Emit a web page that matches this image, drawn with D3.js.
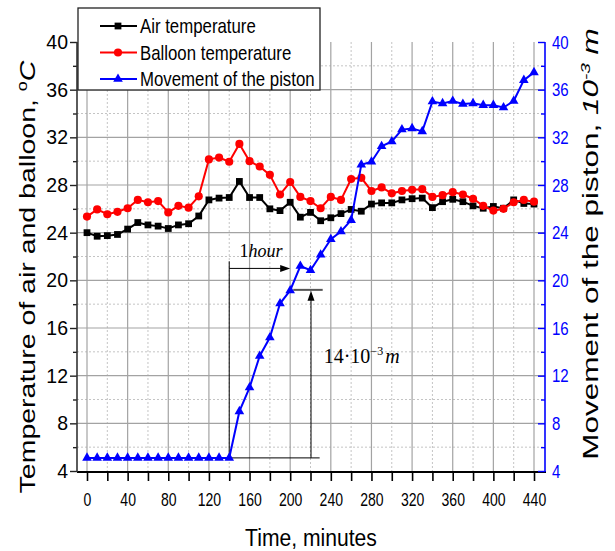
<!DOCTYPE html>
<html>
<head>
<meta charset="utf-8">
<script src="https://cdn.jsdelivr.net/npm/d3@7"></script>
<style>
    body { margin: 0; background: #fff; }
    svg { display: block; }
    text { font-family: Arial, "Liberation Sans", sans-serif; }
</style>
</head>
<body>
<svg id="chart" width="615" height="551"></svg>
<script>
// data
const times = [0, 10, 20, 30, 40, 50, 60, 70, 80, 90, 100, 110, 120, 130, 140, 150, 160, 170, 180, 190,
    200, 210, 220, 230, 240, 250, 260, 270, 280, 290, 300, 310, 320, 330, 340, 350, 360, 370, 380, 390,
    400, 410, 420, 430, 440];
const airTemp = [24.0, 23.7, 23.75, 23.85, 24.3, 24.85, 24.65, 24.55, 24.35, 24.65, 24.75, 25.4, 26.75, 26.9, 26.95,
    28.3, 26.95, 26.95, 26.0, 25.85, 26.55, 25.3, 25.7, 25.0, 25.25, 25.6, 25.95, 25.8, 26.4, 26.5,
    26.5, 26.75, 26.85, 26.9, 26.1, 26.6, 26.8, 26.6, 26.25, 26.05, 26.2, 26.05, 26.75, 26.45, 26.4];
const balloonTemp = [25.35, 25.95, 25.55, 25.75, 26.05, 26.75, 26.55, 26.65, 25.7, 26.25, 26.1, 27.05, 30.15, 30.3, 29.95,
    31.45, 30.0, 29.55, 28.85, 27.2, 28.25, 27.0, 26.65, 26.05, 27.0, 26.75, 28.5, 28.6, 27.5, 27.8,
    27.3, 27.5, 27.6, 27.65, 27.0, 27.15, 27.4, 27.2, 26.85, 26.25, 25.85, 26.0, 26.55, 26.75, 26.6];
const piston = [5.1, 5.1, 5.1, 5.1, 5.1, 5.1, 5.1, 5.1, 5.1, 5.1, 5.1, 5.1, 5.1, 5.1, 5.1,
    9.0, 11.0, 13.65, 15.2, 18.05, 19.15, 21.2, 20.85, 22.15, 23.45, 24.1, 25.05, 29.7, 29.95, 31.25,
    31.65, 32.65, 32.75, 32.5, 35.0, 34.85, 35.05, 34.8, 34.85, 34.7, 34.7, 34.5, 35.05, 36.8, 37.45];

const seriesNames = ["Air temperature", "Balloon temperature", "Movement of the piston"];
const xTicks = [0, 40, 80, 120, 160, 200, 240, 280, 320, 360, 400, 440];
const xMinor = [20, 60, 100, 140, 180, 220, 260, 300, 340, 380, 420];
const yTicks = [4, 8, 12, 16, 20, 24, 28, 32, 36, 40];
const yMinor = [6, 10, 14, 18, 22, 26, 30, 34, 38];

// annotation anchors, in data units
const hourStart = 140, hourEnd = 200, hourLevel = 21.0, hourTop = 21.6;
const riseAt = 220.5, riseTop = 19.2, riseCapFrom = 203, riseCapTo = 232, baseTo = 229;

const svg = d3.select("#chart");
const plotL = 77, plotR = 545, plotT = 42, plotB = 472;

const x = d3.scaleLinear().domain([0, 440]).range([87, 534]);
const y = d3.scaleLinear().domain([4, 40]).range([471, 42]);
const yR = d3.scaleLinear().domain([4, 40]).range([471, 42]);

// squeeze text horizontally (picture is narrower than the fonts)
function squeezeAt(sel, sx, px, py, rot) {
    sel.attr("x", 0).attr("y", 0)
        .attr("transform", `translate(${px},${py}) scale(${sx},1)` + (rot ? ` rotate(${rot})` : ""));
}

// grid
const grid = svg.append("g");
grid.selectAll(".vmin").data(xMinor).join("line")
    .attr("x1", d => x(d)).attr("x2", d => x(d)).attr("y1", plotT).attr("y2", plotB)
    .attr("stroke", "#c4c4c4").attr("stroke-dasharray", "2,2");
grid.selectAll(".hmin").data(yMinor).join("line")
    .attr("x1", plotL).attr("x2", plotR).attr("y1", d => y(d)).attr("y2", d => y(d))
    .attr("stroke", "#c4c4c4").attr("stroke-dasharray", "2,2");
grid.selectAll(".vmaj").data(xTicks).join("line")
    .attr("x1", d => x(d)).attr("x2", d => x(d)).attr("y1", plotT).attr("y2", plotB)
    .attr("stroke", "#a3a3a3").attr("stroke-width", 1.2);
grid.selectAll(".hmaj").data(yTicks.filter(d => d > 4 && d < 40)).join("line")
    .attr("x1", plotL).attr("x2", plotR).attr("y1", d => y(d)).attr("y2", d => y(d))
    .attr("stroke", "#a3a3a3").attr("stroke-width", 1.2);

// annotations
const ann = svg.append("g").attr("stroke", "#000").attr("stroke-width", 1).attr("fill", "none");
const base = piston[0];
ann.append("line").attr("x1", x(hourStart)).attr("x2", x(hourStart)).attr("y1", y(hourTop)).attr("y2", y(base));
ann.append("line").attr("x1", x(hourStart)).attr("x2", x(baseTo)).attr("y1", y(base)).attr("y2", y(base));
ann.append("line").attr("x1", x(hourStart)).attr("x2", x(hourEnd) - 8).attr("y1", y(hourLevel)).attr("y2", y(hourLevel));
ann.append("path").attr("fill", "#000").attr("stroke", "none")
    .attr("d", `M${x(hourEnd)},${y(hourLevel)} l-10,-3.5 l0,7 z`);
ann.append("line").attr("x1", x(riseAt)).attr("x2", x(riseAt)).attr("y1", y(base)).attr("y2", y(riseTop) + 9);
ann.append("path").attr("fill", "#000").attr("stroke", "none")
    .attr("d", `M${x(riseAt)},${y(riseTop) + 1} l-3.5,10 l7,0 z`);
ann.append("line").attr("x1", x(riseCapFrom)).attr("x2", x(riseCapTo)).attr("y1", y(riseTop)).attr("y2", y(riseTop))
    .attr("stroke", "#555").attr("stroke-width", 2);

const serif = "'Liberation Serif', 'Times New Roman', serif";
const t1 = svg.append("text").attr("x", x(150)).attr("y", y(21.98))
    .style("font-family", serif).style("font-size", "18px");
t1.append("tspan").text("1");
t1.append("tspan").style("font-style", "italic").text("hour");

const t2 = svg.append("text").attr("x", x(233)).attr("y", y(13.04))
    .style("font-family", serif).style("font-size", "20px");
t2.append("tspan").text("14\u00b710");
t2.append("tspan").attr("dy", -8).style("font-size", "12px").text("\u22123");
t2.append("tspan").attr("dy", 8).attr("dx", 2).style("font-style", "italic").text("m");

// series
const series = [
    { values: airTemp, color: "#000", shape: d3.symbolSquare, size: 46 },
    { values: balloonTemp, color: "#f00", shape: d3.symbolCircle, size: 52 },
    { values: piston, color: "#00f", shape: d3.symbolTriangle, size: 40 }
];
series.forEach((s, i) => {
    const sy = i === 2 ? yR : y;
    const line = d3.line().x((d, j) => x(times[j])).y(d => sy(d));
    svg.append("path").datum(s.values)
        .attr("d", line).attr("fill", "none").attr("stroke", s.color).attr("stroke-width", 2);
    svg.append("g").selectAll("path").data(s.values).join("path")
        .attr("transform", (d, j) => `translate(${x(times[j])},${sy(d)})`)
        .attr("d", d3.symbol().type(s.shape).size(s.size))
        .attr("fill", s.color);
});

// axes
const gx = svg.append("g").attr("transform", `translate(0,${plotB})`);
gx.call(d3.axisBottom(x).tickValues(xTicks).tickSize(9).tickPadding(12));
gx.call(g => g.select(".domain").remove());
gx.selectAll(".tick line").attr("stroke", "#000").attr("stroke-width", 1.6);
gx.selectAll(".tick text").style("font-size", "18px").attr("fill", "#000")
    .attr("transform", "scale(0.78,1)");
const gx2 = svg.append("g").attr("transform", `translate(0,${plotB})`);
gx2.call(d3.axisBottom(x).tickValues(xMinor).tickSize(9).tickFormat(""));
gx2.call(g => g.select(".domain").remove());
gx2.selectAll(".tick line").attr("stroke", "#000").attr("stroke-width", 1.6);
svg.append("line").attr("x1", plotL).attr("x2", plotR + 1).attr("y1", plotB).attr("y2", plotB)
    .attr("stroke", "#000").attr("stroke-width", 2);

const gy = svg.append("g").attr("transform", `translate(${plotL},0)`);
gy.call(d3.axisLeft(y).tickValues(yTicks).tickSize(7).tickPadding(2));
const gy2 = svg.append("g").attr("transform", `translate(${plotL},0)`);
gy2.call(d3.axisLeft(y).tickValues(yMinor).tickSize(4).tickFormat(""));
[gy, gy2].forEach(g => {
    g.select(".domain").remove();
    g.selectAll(".tick line").attr("stroke", "#222").attr("stroke-width", 1.4);
});
gy.selectAll(".tick text").style("font-size", "20.5px").attr("fill", "#000")
    .attr("x", -9 / 0.95).attr("transform", "scale(0.95,1)");
svg.append("line").attr("x1", plotL).attr("x2", plotL).attr("y1", plotT).attr("y2", plotB)
    .attr("stroke", "#333").attr("stroke-width", 1.6);

const gr = svg.append("g").attr("transform", `translate(${plotR},0)`);
gr.call(d3.axisRight(yR).tickValues(yTicks).tickSize(-7).tickPadding(7));
const gr2 = svg.append("g").attr("transform", `translate(${plotR},0)`);
gr2.call(d3.axisRight(yR).tickValues(yMinor).tickSize(-4).tickFormat(""));
[gr, gr2].forEach(g => {
    g.select(".domain").remove();
    g.selectAll(".tick line").attr("stroke", "#00f").attr("stroke-width", 1.4);
});
gr.selectAll(".tick text").style("font-size", "19px").attr("fill", "#00f")
    .attr("x", 7 / 0.79).attr("transform", "scale(0.79,1)");
svg.append("line").attr("x1", plotR).attr("x2", plotR).attr("y1", plotT).attr("y2", plotB)
    .attr("stroke", "#00f").attr("stroke-width", 1.6);

// axis titles
const xt = svg.append("text").attr("text-anchor", "middle").style("font-size", "24px").text("Time, minutes");
squeezeAt(xt, 0.88, 311, 546);

const lt = svg.append("text").attr("text-anchor", "middle").style("font-size", "28.5px");
lt.append("tspan").text("Temperature of air and balloon, ");
lt.append("tspan").attr("dy", -10).style("font-size", "18px").text("o");
lt.append("tspan").attr("dy", 10).style("font-style", "italic").text("C");
squeezeAt(lt, 0.8, 35, 277, -90);

const rt = svg.append("text").attr("text-anchor", "middle").style("font-size", "31.5px");
rt.append("tspan").text("Movement of the piston, ");
rt.append("tspan").style("font-style", "italic").text("10");
rt.append("tspan").attr("dy", -12).style("font-size", "19px").style("font-style", "italic").text("-3");
rt.append("tspan").attr("dy", 12).style("font-style", "italic").text(" m");
squeezeAt(rt, 0.7, 598, 244, -90);

// legend
const lg = svg.append("g");
lg.append("rect").attr("x", 78).attr("y", 8).attr("width", 242).attr("height", 82)
    .attr("fill", "#fff").attr("stroke", "#222").attr("stroke-width", 1.3);
seriesNames.forEach((name, i) => {
    const ly = 26 + i * 26.5;
    lg.append("line").attr("x1", 100).attr("x2", 137).attr("y1", ly).attr("y2", ly)
        .attr("stroke", series[i].color).attr("stroke-width", 2);
    lg.append("path").attr("transform", `translate(118,${ly})`)
        .attr("d", d3.symbol().type(series[i].shape).size(series[i].size)).attr("fill", series[i].color);
    const tx = lg.append("text").style("font-size", "20.5px").text(name);
    squeezeAt(tx, 0.82, 140, ly + 7);
});
</script>
</body>
</html>
